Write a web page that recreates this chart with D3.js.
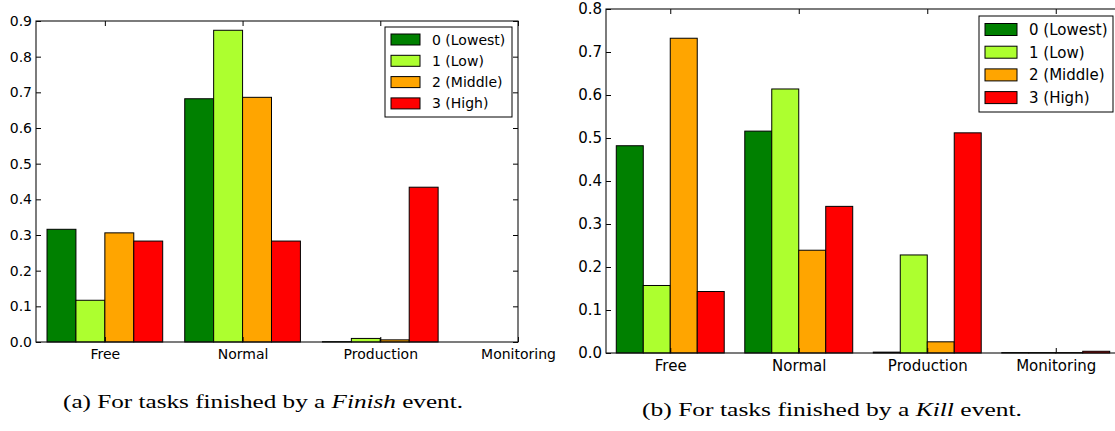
<!DOCTYPE html>
<html>
<head>
<meta charset="utf-8">
<script src="https://cdn.jsdelivr.net/npm/d3@7"></script>
<style>
  html, body { margin: 0; padding: 0; background: #fff; }
  svg { display: block; }
  text { font-family: "DejaVu Sans", sans-serif; fill: #000; }
</style>
</head>
<body>
<svg id="chart" width="1115" height="431"></svg>
<script>
// ---------- data ----------
const categories = ["Free", "Normal", "Production", "Monitoring"];
const priorities = ["0 (Lowest)", "1 (Low)", "2 (Middle)", "3 (High)"];
const colors = ["#008000", "#adff2f", "#ffa500", "#ff0000"];

// (a) Finish event
const finishLowest = [0.316, 0.682, 0.001, 0.0];
const finishLow    = [0.117, 0.874, 0.010, 0.0];
const finishMiddle = [0.306, 0.686, 0.006, 0.0];
const finishHigh   = [0.283, 0.283, 0.434, 0.0];
const finishTicks  = [0.0, 0.1, 0.2, 0.3, 0.4, 0.5, 0.6, 0.7, 0.8, 0.9];

// (b) Kill event
const killLowest = [0.482, 0.516, 0.002, 0.001];
const killLow    = [0.157, 0.614, 0.228, 0.001];
const killMiddle = [0.732, 0.239, 0.026, 0.001];
const killHigh   = [0.143, 0.341, 0.512, 0.004];
const killTicks  = [0.0, 0.1, 0.2, 0.3, 0.4, 0.5, 0.6, 0.7, 0.8];

const barWidth = 0.21;

const svg = d3.select("#chart");

function drawPanel(cfg) {
  const g = svg.append("g");
  const x = d3.scaleLinear().domain(cfg.xDomain).range([cfg.left, cfg.right]);
  const y = d3.scaleLinear().domain([0, cfg.yMax]).range([cfg.bottom, cfg.top]);

  // bars
  cfg.series.forEach((vals, j) => {
    g.append("g").selectAll("rect").data(vals).join("rect")
      .attr("x", (d, i) => x(i + (j - 2) * barWidth))
      .attr("width", (d, i) => x(i + (j - 1) * barWidth) - x(i + (j - 2) * barWidth))
      .attr("y", d => y(d))
      .attr("height", d => y(0) - y(d))
      .attr("fill", colors[j])
      .attr("stroke", "#000")
      .attr("stroke-width", 1);
  });

  // y axis left
  const yl = g.append("g").attr("transform", `translate(${cfg.left},0)`)
    .call(d3.axisLeft(y).tickValues(cfg.ticks).tickFormat(d3.format(".1f"))
      .tickSizeInner(-5).tickSizeOuter(0).tickPadding(4));
  yl.select(".domain").remove();
  yl.selectAll("text").style("font-size", cfg.font + "px").style("font-family", "DejaVu Sans");
  yl.selectAll("line").attr("stroke", "#000");

  // y axis right (ticks only)
  const yr = g.append("g").attr("transform", `translate(${cfg.right},0)`)
    .call(d3.axisRight(y).tickValues(cfg.ticks).tickFormat("")
      .tickSizeInner(-5).tickSizeOuter(0));
  yr.select(".domain").remove();
  yr.selectAll("line").attr("stroke", "#000");

  // x axis bottom
  const xb = g.append("g").attr("transform", `translate(0,${cfg.bottom})`)
    .call(d3.axisBottom(x).tickValues(d3.range(categories.length))
      .tickFormat(i => categories[i]).tickSizeInner(-5).tickSizeOuter(0).tickPadding(7));
  xb.select(".domain").remove();
  xb.selectAll("text").style("font-size", cfg.font + "px").style("font-family", "DejaVu Sans");
  xb.selectAll("line").attr("stroke", "#000");

  // x axis top (ticks only)
  const xt = g.append("g").attr("transform", `translate(0,${cfg.top})`)
    .call(d3.axisTop(x).tickValues(d3.range(categories.length))
      .tickFormat("").tickSizeInner(-5).tickSizeOuter(0));
  xt.select(".domain").remove();
  xt.selectAll("line").attr("stroke", "#000");

  // frame
  g.append("rect")
    .attr("x", cfg.left).attr("y", cfg.top)
    .attr("width", cfg.right - cfg.left).attr("height", cfg.bottom - cfg.top)
    .attr("fill", "none").attr("stroke", "#111").attr("stroke-width", 1.1);

  // legend
  const L = cfg.legend;
  const lg = g.append("g");
  lg.append("rect")
    .attr("x", L.x).attr("y", L.y).attr("width", L.w).attr("height", L.h)
    .attr("fill", "#fff").attr("stroke", "#000").attr("stroke-width", 1);
  priorities.forEach((p, j) => {
    const cy = L.row0 + j * L.step;
    lg.append("rect")
      .attr("x", L.px).attr("y", cy - L.ph / 2)
      .attr("width", L.pw).attr("height", L.ph)
      .attr("fill", colors[j]).attr("stroke", "#000").attr("stroke-width", 1);
    lg.append("text")
      .attr("x", L.tx).attr("y", cy).attr("dy", "0.36em")
      .style("font-size", cfg.font + "px")
      .text(p);
  });

  // caption
  const c = svg.append("text")
    .attr("x", cfg.caption.x).attr("y", cfg.caption.y)
    .attr("text-anchor", "middle")
    .attr("textLength", cfg.caption.len)
    .attr("lengthAdjust", "spacingAndGlyphs")
    .style("font-family", "'Liberation Serif', serif")
    .style("font-size", "18px");
  c.append("tspan").text(cfg.caption.pre);
  c.append("tspan").style("font-style", "italic").text(cfg.caption.it);
  c.append("tspan").text(cfg.caption.post);
}

drawPanel({
  xDomain: [-0.5, 3], left: 36, right: 518, top: 21, bottom: 342,
  yMax: 0.9, ticks: finishTicks, font: 14,
  series: [finishLowest, finishLow, finishMiddle, finishHigh],
  legend: { x: 385, y: 27, w: 127, h: 90, px: 391, pw: 29, ph: 11, tx: 432, row0: 39.5, step: 21.3 },
  caption: { x: 263, y: 408, len: 400, pre: "(a) For tasks finished by a ", it: "Finish", post: " event." }
});

drawPanel({
  xDomain: [-0.5, 3.5], left: 606, right: 1120, top: 9, bottom: 353,
  yMax: 0.8, ticks: killTicks, font: 15,
  series: [killLowest, killLow, killMiddle, killHigh],
  legend: { x: 979, y: 16, w: 134, h: 96, px: 985, pw: 32, ph: 12, tx: 1029, row0: 29.5, step: 22.7 },
  caption: { x: 832, y: 415.5, len: 380, pre: "(b) For tasks finished by a ", it: "Kill", post: " event." }
});
</script>
</body>
</html>
